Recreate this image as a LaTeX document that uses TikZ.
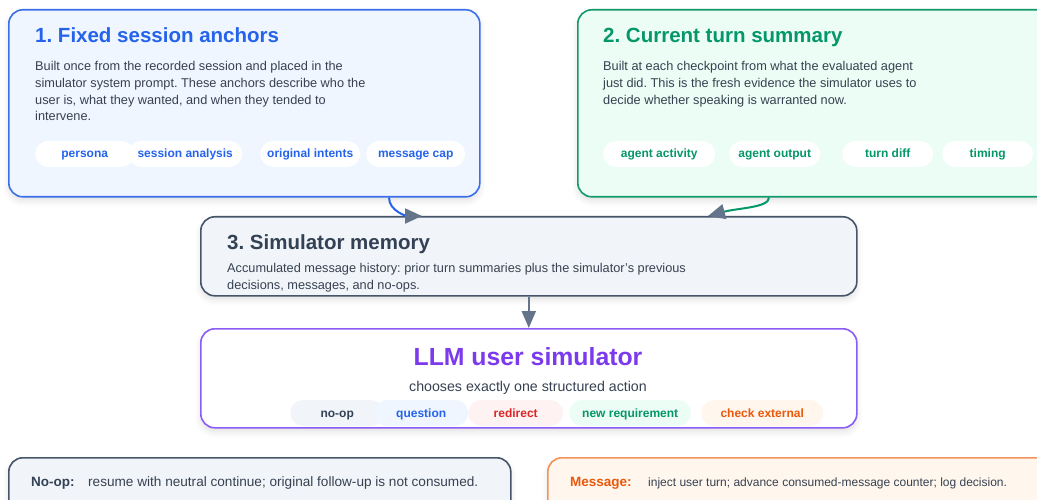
\documentclass[tikz,border=0pt]{standalone}
\usepackage{fontspec}
\setmainfont{Liberation Sans}
\usetikzlibrary{arrows.meta,shadows.blur}
\frenchspacing
\definecolor{blueB}{HTML}{3B6FE8}
\definecolor{blueT}{HTML}{2563EB}
\definecolor{blueF}{HTML}{EFF6FF}
\definecolor{greenB}{HTML}{129A6C}
\definecolor{greenT}{HTML}{059669}
\definecolor{greenF}{HTML}{ECFDF5}
\definecolor{slateB}{HTML}{475569}
\definecolor{slateT}{HTML}{334155}
\definecolor{slateF}{HTML}{F1F5F9}
\definecolor{purpB}{HTML}{8B5CF6}
\definecolor{purpT}{HTML}{7C3AED}
\definecolor{orT}{HTML}{EA580C}
\definecolor{orB}{HTML}{F3925A}
\definecolor{orF}{HTML}{FFF7ED}
\definecolor{redT}{HTML}{DC2626}
\definecolor{redF}{HTML}{FEF2F2}
\definecolor{txt}{HTML}{374151}
\definecolor{arrG}{HTML}{64748B}
\tikzset{
  panel/.style={rounded corners=14pt, line width=1.6pt, anchor=north west, inner sep=0pt,
    blur shadow={shadow xshift=0pt, shadow yshift=-4pt, shadow blur radius=6pt, shadow opacity=12}},
  ttl/.style={anchor=base west, inner sep=0pt, font=\fontsize{20.5}{24}\selectfont\bfseries},
  body/.style={anchor=north west, inner sep=0pt, align=left, text=txt, font=\fontsize{12.75}{16.8}\selectfont},
  pill/.style={rounded corners=13pt, minimum height=26pt, inner sep=0pt, anchor=west,
    text height=10pt, text depth=2pt,
    font=\fontsize{12}{13}\selectfont\bfseries},
  conn/.style={line width=2pt},
}
\begin{document}
\begin{tikzpicture}[x=1pt,y=-1pt]
\useasboundingbox (0,0) rectangle (1037,500);
% panel 1
\node[panel, draw=blueB, fill=blueF, minimum width=471pt, minimum height=187pt] (b1) at (8,9) {};
\node[ttl, text=blueT] (t1) at (35,43) {1. Fixed session anchors};
\node[body] (d1) at (35,61) {Built once from the recorded session and placed in the\\simulator system prompt. These anchors describe who the\\user is, what they wanted, and when they tended to\\intervene.};
\node[pill, fill=white, text=blueT, minimum width=99pt] (p11) at (35,154) {persona};
\node[pill, fill=white, text=blueT, minimum width=114pt] (p12) at (128,154) {session analysis};
\node[pill, fill=white, text=blueT, minimum width=100pt] (p13) at (260,154) {original intents};
\node[pill, fill=white, text=blueT, minimum width=99pt] (p14) at (366,154) {message cap};
% panel 2
\node[panel, draw=greenB, fill=greenF, minimum width=480pt, minimum height=187pt] (b2) at (577,9) {};
\node[ttl, text=greenT] (t2) at (603,43) {2. Current turn summary};
\node[body] (d2) at (603,61) {Built at each checkpoint from what the evaluated agent\\just did. This is the fresh evidence the simulator uses to\\decide whether speaking is warranted now.};
\node[pill, fill=white, text=greenT, minimum width=112pt] (p21) at (603,154) {agent activity};
\node[pill, fill=white, text=greenT, minimum width=91pt] (p22) at (729,154) {agent output};
\node[pill, fill=white, text=greenT, minimum width=91pt] (p23) at (842,154) {turn diff};
\node[pill, fill=white, text=greenT, minimum width=91pt] (p24) at (942,154) {timing};
% panel 3
\node[panel, draw=slateB, fill=slateF, minimum width=656pt, minimum height=79pt] (b3) at (200,216) {};
\node[ttl, text=slateT] (t3) at (227,249) {3. Simulator memory};
\node[body, font=\fontsize{12.75}{16.5}\selectfont] (d3) at (227,263.5) {Accumulated message history: prior turn summaries plus the simulator's previous\\decisions, messages, and no-ops.};
% panel 4
\node[panel, draw=purpB, fill=white, minimum width=656pt, minimum height=99pt] (b4) at (200,328) {};
\node[anchor=base, inner sep=0pt, text=purpT, font=\fontsize{24.8}{28}\selectfont\bfseries] (t4) at (528,365) {LLM user simulator};
\node[anchor=base, inner sep=0pt, text=txt, font=\fontsize{14.2}{17}\selectfont] (s4) at (528,391) {chooses exactly one structured action};
\node[pill, fill=slateF, text=slateT, minimum width=94pt] (a1) at (290,413) {no-op};
\node[pill, fill=blueF, text=blueT, minimum width=94pt] (a2) at (374,413) {question};
\node[pill, fill=redF, text=redT, minimum width=95pt] (a3) at (468,413) {redirect};
\node[pill, fill=greenF, text=greenT, minimum width=122pt] (a4) at (569,413) {new requirement};
\node[pill, fill=orF, text=orT, minimum width=122pt] (a5) at (701,413) {check external};
% bottom panels
\node[panel, draw=slateB, fill=slateF, minimum width=502pt, minimum height=60pt] (b5) at (8,457) {};
\node[anchor=base west, inner sep=0pt, text=slateT, font=\fontsize{13.5}{15}\selectfont\bfseries] (n5) at (31,486) {No-op:};
\node[anchor=base west, inner sep=0pt, text=txt, font=\fontsize{13.6}{15}\selectfont] (m5) at (88,486) {resume with neutral continue; original follow-up is not consumed.};
\node[panel, draw=orB, fill=orF, minimum width=520pt, minimum height=60pt] (b6) at (547,457) {};
\node[anchor=base west, inner sep=0pt, text=orT, font=\fontsize{13.5}{15}\selectfont\bfseries] (n6) at (570,486) {Message:};
\node[anchor=base west, inner sep=0pt, text=txt, font=\fontsize{12}{15}\selectfont] (m6) at (648,486) {inject user turn; advance consumed-message counter; log decision.};
% connectors
\draw[conn, draw=blueT, -{Triangle[length=17pt,width=15pt,color=arrG]}]
  ([xshift=381pt]b1.south west) .. controls +(0,14) and +(-14,0) .. ([xshift=222pt]b3.north west);
\draw[conn, draw=greenT, -{Triangle[length=17pt,width=15pt,color=arrG]}]
  ([xshift=192pt]b2.south west) .. controls +(0,10) and +(30,-8) .. ([xshift=508pt]b3.north west);
\draw[conn, draw=arrG, -{Triangle[length=17pt,width=14pt]}] (b3.south) -- (b4.north);
\end{tikzpicture}
\end{document}
